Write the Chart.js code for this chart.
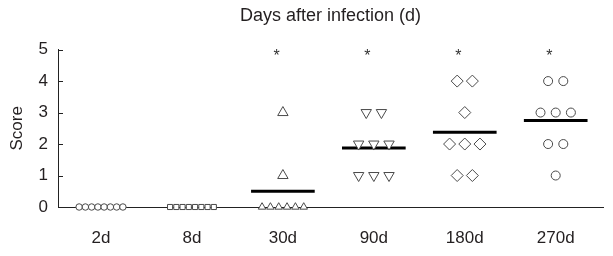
<!DOCTYPE html>
<html>
<head>
<meta charset="utf-8">
<script src="https://cdn.jsdelivr.net/npm/chart.js@4/dist/chart.umd.min.js"></script>
<style>
  html, body { margin: 0; padding: 0; background: #fff; }
  #wrap { width: 613px; height: 256px; position: relative; }
</style>
</head>
<body>
<div id="wrap"><canvas id="myChart"></canvas></div>
<script>
"use strict"

// data
const groups = ['2d', '8d', '30d', '90d', '180d', '270d'];
const scores2d = [0, 0, 0, 0, 0, 0, 0, 0];
const scores8d = [0, 0, 0, 0, 0, 0, 0, 0];
const scores30d = [0, 0, 0, 0, 0, 0, 1, 3];
const scores90d = [1, 1, 1, 2, 2, 2, 3, 3];
const scores180d = [1, 1, 2, 2, 2, 3, 4, 4];
const scores270d = [1, 2, 2, 3, 3, 3, 4, 4];
const significant = [false, false, true, true, true, true];
const scoreTicks = [0, 1, 2, 3, 4, 5];

const allScores = [scores2d, scores8d, scores30d, scores90d, scores180d, scores270d];

// marker look per group
const markerStyles = ['circle', 'rect', 'triangle', 'triangle', 'rectRot', 'circle'];
const markerRotations = [0, 0, 0, 180, 0, 0];
const markerRadius = [4.5, 5, 6, 6, 6, 4.5];
const markerColor = '#4a4a4a';
const textColor = '#231f20';
const fontFamily = "'Liberation Sans', Arial, Helvetica, sans-serif";

function mean(values) {
  return values.reduce((a, b) => a + b, 0) / values.length;
}

// spread equal scores side by side around the group centre
function spreadPoints(scores, center) {
  const counts = {};
  scores.forEach(s => counts[s] = (counts[s] || 0) + 1);
  const seen = {};
  return scores.map(s => {
    const n = counts[s];
    seen[s] = (seen[s] === undefined) ? 0 : seen[s] + 1;
    const step = n > 3 ? 0.55 / n : 0.167;
    return { x: center + (seen[s] - (n - 1) / 2) * step, y: s, crowded: n > 3 };
  });
}

const datasets = [];

allScores.forEach((scores, i) => {
  const center = i + 1;
  datasets.push({
    type: 'scatter',
    label: groups[i],
    data: spreadPoints(scores, center),
    pointStyle: markerStyles[i],
    rotation: markerRotations[i],
    pointRadius: ctx => ctx.raw && ctx.raw.crowded ? markerRadius[i] * 0.72 : markerRadius[i],
    pointBorderColor: markerColor,
    pointBackgroundColor: '#fff',
    pointBorderWidth: 1,
    clip: false,
    order: 0
  });

  const m = mean(scores);
  if (m > 0) {
    datasets.push({
      type: 'line',
      label: groups[i] + ' mean',
      data: [{ x: center - 0.35, y: m }, { x: center + 0.35, y: m }],
      borderColor: '#000',
      borderWidth: 3,
      pointRadius: 0,
      clip: false,
      order: 1
    });
  }
});

// inward ticks on the score axis and the asterisks over the significant groups
const extrasPlugin = {
  id: 'extras',
  afterDatasetsDraw(chart) {
    const ctx = chart.ctx;
    const xs = chart.scales.x;
    const ys = chart.scales.y;
    ctx.save();
    ctx.strokeStyle = '#222';
    ctx.lineWidth = 1;
    scoreTicks.forEach(v => {
      const y = Math.round(ys.getPixelForValue(v)) + 0.5;
      ctx.beginPath();
      ctx.moveTo(xs.left, y);
      ctx.lineTo(xs.left + 5, y);
      ctx.stroke();
    });
    ctx.fillStyle = '#333';
    ctx.font = '16px ' + fontFamily;
    ctx.textAlign = 'center';
    ctx.textBaseline = 'middle';
    significant.forEach((sig, i) => {
      if (!sig) return;
      const x = xs.getPixelForValue(i + 1 - 0.07);
      const y = ys.getPixelForValue(5) + 7;
      ctx.fillText('*', x, y);
    });
    ctx.restore();
  }
};

const ctx = document.getElementById('myChart').getContext('2d');
const myChart = new Chart(ctx, {
  type: 'scatter',
  data: { datasets: datasets },
  options: {
    responsive: true,
    maintainAspectRatio: false,
    animation: false,
    layout: { padding: { left: 0, right: 10, top: 0, bottom: 0 } },
    plugins: {
      legend: { display: false },
      tooltip: { enabled: false },
      title: {
        display: true,
        text: 'Days after infection (d)',
        fullSize: false,
        color: textColor,
        font: { family: fontFamily, size: 18, weight: 'normal' },
        padding: { top: 5, bottom: 23 }
      }
    },
    scales: {
      x: {
        type: 'linear',
        min: 0.527,
        max: 6.52,
        afterBuildTicks: scale => { scale.ticks = groups.map((g, i) => ({ value: i + 1 })); },
        afterFit: scale => { scale.height = 49; },
        ticks: {
          callback: v => groups[v - 1],
          color: textColor,
          font: { family: fontFamily, size: 17 },
          padding: 21,
          maxRotation: 0
        },
        grid: { display: true, drawOnChartArea: false, drawTicks: false },
        border: { display: true, color: '#222', width: 1 }
      },
      y: {
        type: 'linear',
        min: 0,
        max: 5,
        afterBuildTicks: scale => { scale.ticks = scoreTicks.map(v => ({ value: v })); },
        afterFit: scale => { scale.width = 58; },
        ticks: {
          color: textColor,
          font: { family: fontFamily, size: 17 },
          padding: 10
        },
        title: {
          display: true,
          text: 'Score',
          color: textColor,
          font: { family: fontFamily, size: 17 },
          padding: { top: 7, bottom: 10 }
        },
        grid: { display: true, drawOnChartArea: false, drawTicks: false },
        border: { display: true, color: '#222', width: 1 }
      }
    }
  },
  plugins: [extrasPlugin]
});
</script>
</body>
</html>
